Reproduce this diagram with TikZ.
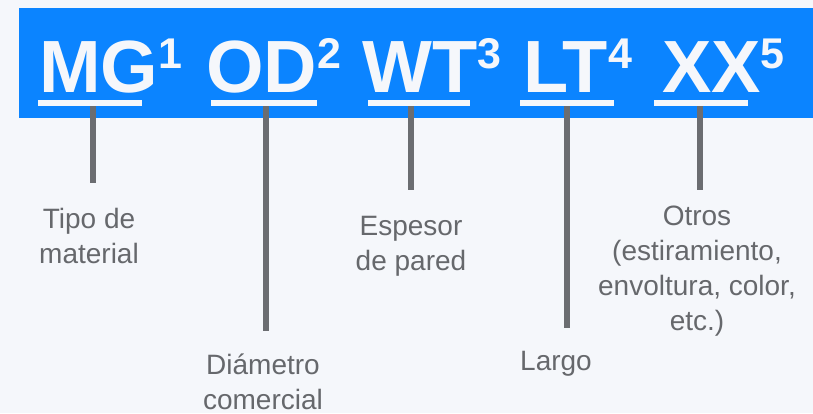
\documentclass[tikz,border=0pt]{standalone}
\usepackage{fontspec}
\setmainfont{Liberation Sans}

\definecolor{pagebg}{HTML}{F5F7FB}
\definecolor{bannerblue}{HTML}{0B84FF}
\definecolor{codewhite}{HTML}{F5F7FB}
\definecolor{stemgray}{HTML}{6B6D71}
\definecolor{textgray}{HTML}{66686C}

\newcommand{\codetag}[2]{#1\raisebox{24pt}{\fontsize{43}{43}\selectfont #2}}

\tikzset{
  code/.style={anchor=base west, inner sep=0pt, text=codewhite,
    font=\fontsize{74}{74}\selectfont\bfseries},
  uline/.style={fill=codewhite, inner sep=0pt, minimum height=6pt},
  desc/.style={anchor=base, align=center, inner sep=0pt, text=textgray,
    font=\fontsize{28}{35}\selectfont},
  stem/.style={draw=stemgray, line width=6pt}
}

\begin{document}
\begin{tikzpicture}[x=1pt,y=-1pt]

        \fill[pagebg] (0,0) rectangle (813,413);
        \useasboundingbox (0,0) rectangle (813,413);
        \fill[bannerblue] (19,8) rectangle (813,118);

        \begin{scope}[every node/.style={code}]
          \node (mg) at (39,92)  {\codetag{MG}{1}};
          \node (od) at (206,92) {\codetag{OD}{2}};
          \node (wt) at (362,92) {\codetag{WT}{3}};
          \node (lt) at (523,92) {\codetag{LT}{4}};
          \node (xx) at (662,92) {\codetag{XX}{5}};
        \end{scope}

        \begin{scope}[every node/.style={uline}]
          \node[minimum width=104pt] (ulMG) at (90,103)  {};
          \node[minimum width=106pt] (ulOD) at (264,103) {};
          \node[minimum width=102pt] (ulWT) at (419,103) {};
          \node[minimum width=94pt]  (ulLT) at (567,103) {};
          \node[minimum width=94pt]  (ulXX) at (701,103) {};
        \end{scope}

        \coordinate (eMG) at (93,183);
        \coordinate (eOD) at (266,331);
        \coordinate (eWT) at (411,190);
        \coordinate (eLT) at (567,328);
        \coordinate (eXX) at (700,190);

        % base = baseline of the last line
        \begin{scope}[every node/.style={desc}]
          \node (tipo)  at (89,263)  {Tipo de\\material};
          \node (diam)  at (263,409) {Diámetro\\comercial};
          \node (esp)   at (411,270) {Espesor\\de pared};
          \node (largo) at (556,370) {Largo};
          \node (otros) at (697,330) {Otros\\(estiramiento,\\envoltura, color,\\etc.)};
        \end{scope}

        \begin{scope}[every edge/.style={stem}]
          \path (eMG |- ulMG.south) edge (eMG);
          \path (eOD |- ulOD.south) edge (eOD);
          \path (eWT |- ulWT.south) edge (eWT);
          \path (eLT |- ulLT.south) edge (eLT);
          \path (eXX |- ulXX.south) edge (eXX);
        \end{scope}

      \end{tikzpicture}
\end{document}
